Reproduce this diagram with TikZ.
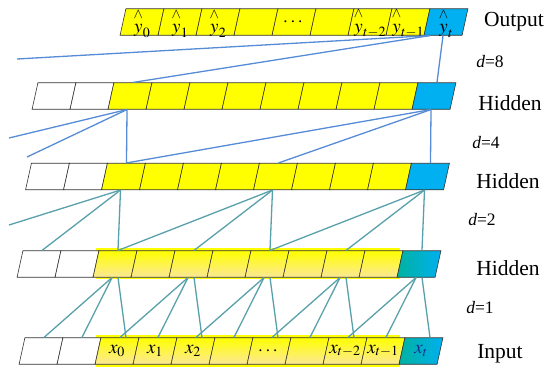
\documentclass[tikz,border=0pt]{standalone}
\usepackage{amsmath}
\usepackage{mathptmx}
\usepackage{fontspec}
\setmainfont{Liberation Serif}
\definecolor{cellyellow}{RGB}{255,255,0}
\definecolor{cellblue}{RGB}{0,176,240}
\definecolor{cellteal}{RGB}{0,178,160}
\definecolor{peach}{RGB}{252,232,150}
\definecolor{linkblue}{RGB}{86,140,214}
\definecolor{linkteal}{RGB}{88,160,170}
\definecolor{xblue}{RGB}{25,45,150}
\newcommand\yhat[1]{\overset{\raisebox{2.5pt}{$\scriptstyle\wedge$}}{y}_{#1}}
\begin{document}
\begin{tikzpicture}[x=1pt,y=-1pt,
  cell/.style={draw=black!80,line width=0.6pt,minimum width=38pt,minimum height=26.5pt,inner sep=0pt,xslant=0.22},
  wcell/.style={cell,fill=white},
  ycell/.style={cell,fill=cellyellow},
  bcell/.style={cell,fill=cellblue},
  ycellb/.style={cell,top color=cellyellow,middle color=cellyellow,bottom color=peach},
  bcellb/.style={cell,left color=cellteal,right color=cellblue},
  val/.style={font=\fontsize{19}{21}\selectfont,inner sep=0pt},
  rowname/.style={font=\fontsize{21.5}{24}\selectfont},
  dil/.style={font=\fontsize{17.5}{20}\selectfont},
  linkup/.style={linkblue,line width=1.3pt},
  linklow/.style={linkteal,line width=1.3pt}]
  \useasboundingbox (0,0) rectangle (550,376);
  \fill[cellyellow] (96,248) rectangle (400,279);
  \fill[cellyellow] (96,335) rectangle (400,367);
  \foreach \i in {0,...,7}
    \node[ycell] (out-\i) at (142+38*\i,22) {};
  \node[bcell] (out-8) at (446,22) {};
  \foreach \r/\x/\y/\ys/\bs in {hid1/54/96/ycell/bcell,hid2/47.5/176.5/ycell/bcell,
      hid3/39/264/ycellb/bcellb,inp/41/351/ycellb/bcellb}{
    \node[wcell] (\r-0) at (\x,\y) {};
    \node[wcell] (\r-1) at (\x+38,\y) {};
    \foreach \i in {2,...,9}
      \node[\ys] (\r-\i) at (\x+38*\i,\y) {};
    \node[\bs] (\r-10) at (\x+380,\y) {};
  }
  \foreach \i/\s in {0/0,1/1,2/2,6/t-2,7/t-1}
    \node[val] (yl-\i) at ([yshift=-1pt]out-\i) {$\yhat{\s}$};
  \node[val] (yl-4) at (out-4) {$\cdots$};
  \node[val] (yl-8) at ([yshift=-1pt]out-8) {$\yhat{t}$};
  \foreach \i/\s in {2/0,3/1,4/2,8/t-2,9/t-1}
    \node[val] (xl-\i) at (inp-\i) {$x_{\s}$};
  \node[val] (xl-6) at (inp-6) {$\cdots$};
  \node[val,text=xblue] (xl-10) at (inp-10) {$x_{t}$};
  \node[rowname] (lbl-out) at (514,22) {Output};
  \node[rowname] (lbl-h1) at (510,103) {Hidden};
  \node[rowname] (lbl-h2) at (508,181) {Hidden};
  \node[rowname] (lbl-h3) at (508,268) {Hidden};
  \node[rowname] (lbl-in) at (500,354) {Input};
  \node[dil] (d8) at (490,62) {\textit{d}=8};
  \node[dil] (d4) at (486,143) {\textit{d}=4};
  \node[dil] (d2) at (482,220) {\textit{d}=2};
  \node[dil] (d1) at (480,308) {\textit{d}=1};
  \coordinate (e8) at (17,59);
  \coordinate (e4a) at (9,138);
  \coordinate (e4b) at (27,157);
  \coordinate (e2) at (9,225);
  \draw[linkup] (out-8.south) -- (hid1-10.north);
  \draw[linkup] ([xshift=-13pt]out-8.south) -- (hid1-2.north);
  \draw[linkup] ([xshift=-13pt]out-8.south) -- (e8);
  \draw[linkup] (hid1-2.south) -- (hid2-2.north);
  \draw[linkup] (hid1-2.south) -- (e4a);
  \draw[linkup] (hid1-2.south) -- (e4b);
  \foreach \j in {10,6,2}
    \draw[linkup] (hid1-10.south) -- (hid2-\j.north);
  \draw[linklow] (hid2-2.south) -- (e2);
  \foreach \c/\j in {2/2,2/0,6/6,6/4,6/2,10/10,10/8,10/6}
    \draw[linklow] (hid2-\c.south) -- (hid3-\j.north);
  \foreach \c [evaluate=\c as \ja using int(\c-1),evaluate=\c as \jb using int(\c-2)] in {2,4,...,10}{
    \draw[linklow] (hid3-\c.south) -- (inp-\ja.north);
    \draw[linklow] (hid3-\c.south) -- (inp-\jb.north);
    \draw[linklow] ([xshift=6pt]hid3-\c.south) -- ([xshift=6pt]inp-\c.north);
  }
\end{tikzpicture}
\end{document}
